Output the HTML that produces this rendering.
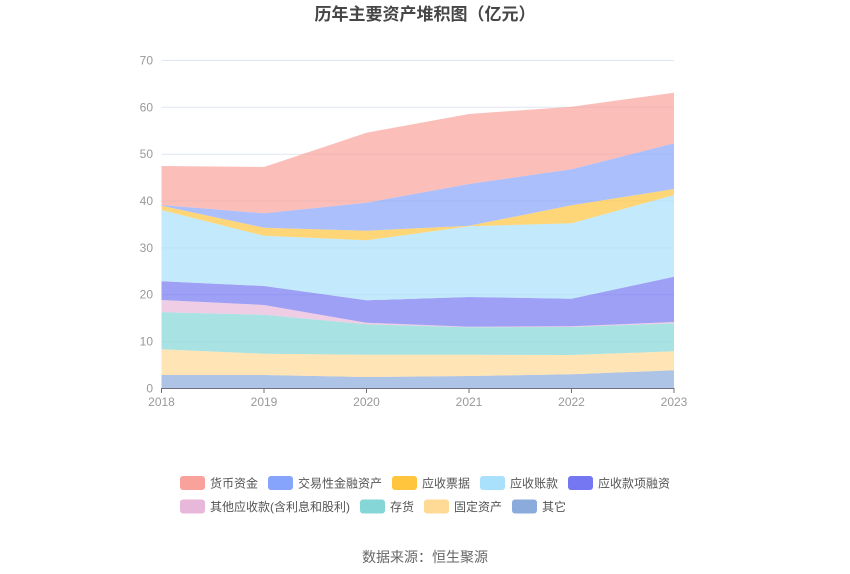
<!DOCTYPE html>
<html><head><meta charset="utf-8"><style>
html,body{margin:0;padding:0;background:#fff;}
svg{display:block;}
text{font-family:"Liberation Sans","Noto Sans CJK SC",sans-serif;}
</style></head><body>
<svg width="850" height="574" viewBox="0 0 850 574" xmlns="http://www.w3.org/2000/svg">
<rect width="850" height="574" fill="#fff"/>
<text x="425" y="20" text-anchor="middle" font-size="17" font-weight="bold" fill="#464646">历年主要资产堆积图（亿元）</text>
<g stroke="#e0e6f1" stroke-width="1">
<line x1="161.5" x2="674" y1="60.5" y2="60.5"/>
<line x1="161.5" x2="674" y1="107.3" y2="107.3"/>
<line x1="161.5" x2="674" y1="154.2" y2="154.2"/>
<line x1="161.5" x2="674" y1="201" y2="201"/>
<line x1="161.5" x2="674" y1="247.9" y2="247.9"/>
<line x1="161.5" x2="674" y1="294.7" y2="294.7"/>
<line x1="161.5" x2="674" y1="341.6" y2="341.6"/>
</g>
<g fill-opacity="0.7">
<polygon fill="#8aabdb" points="161.5,375 264,375 366.5,377 469,376 571.5,374.3 674,370.3 674,388 161.5,388"/>
<polygon fill="#ffd996" points="161.5,349.3 264,353.7 366.5,354.7 469,354.7 571.5,355 674,351.3 674,370.3 571.5,374.3 469,376 366.5,377 264,375 161.5,375"/>
<polygon fill="#85d6d7" points="161.5,312.3 264,314.7 366.5,324.3 469,327.3 571.5,327 674,323.3 674,351.3 571.5,355 469,354.7 366.5,354.7 264,353.7 161.5,349.3"/>
<polygon fill="#e8b8da" points="161.5,300 264,305 366.5,322.7 469,326.7 571.5,326.3 674,322 674,323.3 571.5,327 469,327.3 366.5,324.3 264,314.7 161.5,312.3"/>
<polygon fill="#7577f2" points="161.5,281.3 264,286 366.5,300.3 469,297 571.5,298.7 674,276.7 674,322 571.5,326.3 469,326.7 366.5,322.7 264,305 161.5,300"/>
<polygon fill="#a9e0fb" points="161.5,210 264,235.7 366.5,240.3 469,226.3 571.5,223.3 674,195 674,276.7 571.5,298.7 469,297 366.5,300.3 264,286 161.5,281.3"/>
<polygon fill="#ffc53d" points="161.5,205.7 264,227.7 366.5,230.7 469,225.7 571.5,205.3 674,189 674,195 571.5,223.3 469,226.3 366.5,240.3 264,235.7 161.5,210"/>
<polygon fill="#86a4fb" points="161.5,205 264,213.3 366.5,202.7 469,184 571.5,169.3 674,143.3 674,189 571.5,205.3 469,225.7 366.5,230.7 264,227.7 161.5,205.7"/>
<polygon fill="#f9a29b" points="161.5,166 264,167 366.5,132.7 469,114 571.5,106.7 674,92.7 674,143.3 571.5,169.3 469,184 366.5,202.7 264,213.3 161.5,205"/>
</g>
<g stroke="#6e7079" stroke-width="1">
<line x1="161.5" x2="674.5" y1="388.5" y2="388.5"/>
<line x1="161.5" x2="161.5" y1="388" y2="393"/>
<line x1="264" x2="264" y1="388" y2="393"/>
<line x1="366.5" x2="366.5" y1="388" y2="393"/>
<line x1="469" x2="469" y1="388" y2="393"/>
<line x1="571.5" x2="571.5" y1="388" y2="393"/>
<line x1="674" x2="674" y1="388" y2="393"/>
</g>
<g font-size="12" fill="#999" text-anchor="end">
<text x="153" y="64.5">70</text>
<text x="153" y="111.3">60</text>
<text x="153" y="158.2">50</text>
<text x="153" y="205">40</text>
<text x="153" y="251.9">30</text>
<text x="153" y="298.7">20</text>
<text x="153" y="345.6">10</text>
<text x="153" y="392.5">0</text>
</g>
<g font-size="12" fill="#999" text-anchor="middle">
<text x="161.5" y="406">2018</text>
<text x="264" y="406">2019</text>
<text x="366.5" y="406">2020</text>
<text x="469" y="406">2021</text>
<text x="571.5" y="406">2022</text>
<text x="674" y="406">2023</text>
</g>
<g font-size="12" fill="#555">
<rect x="180" y="476" width="25" height="14" rx="3" fill="#f9a29b"/><text x="210" y="487.5">货币资金</text>
<rect x="268" y="476" width="25" height="14" rx="3" fill="#86a4fb"/><text x="298" y="487.5">交易性金融资产</text>
<rect x="392" y="476" width="25" height="14" rx="3" fill="#ffc53d"/><text x="422" y="487.5">应收票据</text>
<rect x="480" y="476" width="25" height="14" rx="3" fill="#a9e0fb"/><text x="510" y="487.5">应收账款</text>
<rect x="568" y="476" width="25" height="14" rx="3" fill="#7577f2"/><text x="598" y="487.5">应收款项融资</text>
<rect x="180" y="499.5" width="25" height="14" rx="3" fill="#e8b8da"/><text x="210" y="511">其他应收款(含利息和股利)</text>
<rect x="360" y="499.5" width="25" height="14" rx="3" fill="#85d6d7"/><text x="390" y="511">存货</text>
<rect x="424" y="499.5" width="25" height="14" rx="3" fill="#ffd996"/><text x="454" y="511">固定资产</text>
<rect x="512" y="499.5" width="25" height="14" rx="3" fill="#8aabdb"/><text x="542" y="511">其它</text>
</g>
<text x="425" y="562" text-anchor="middle" font-size="14" fill="#666">数据来源：恒生聚源</text>
</svg>
</body></html>
